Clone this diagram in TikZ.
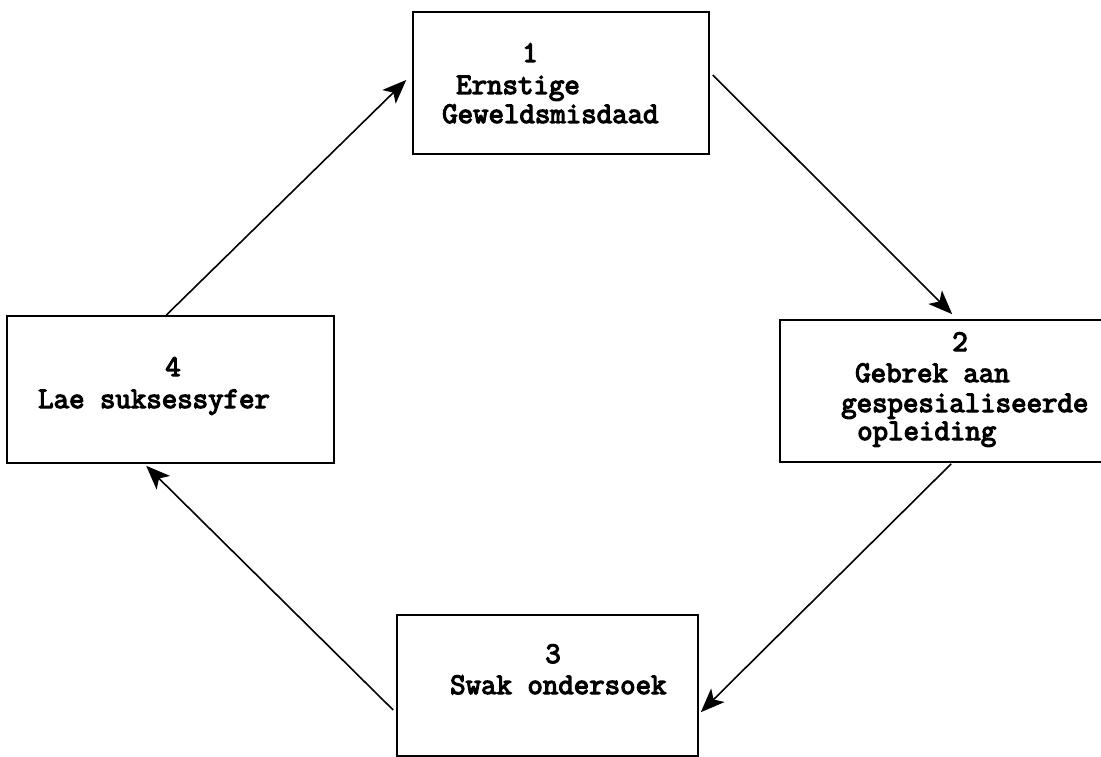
\documentclass[tikz,border=0pt]{standalone}
\usepackage{fontspec}
\newfontfamily\crfont[FakeBold=4]{Latin Modern Mono}
\usetikzlibrary{arrows.meta,calc}
\begin{document}
\begin{tikzpicture}[x=1pt,y=-1pt,
  box/.style={draw=black,line width=1.6pt,inner sep=0pt,rectangle},
  txt/.style={inner sep=0pt,font=\fontsize{30}{34}\selectfont\crfont},
  arr/.style={draw=black,line width=1.6pt,-{Stealth[length=24pt,width=19pt,inset=6pt]}}]
\clip (0,0) rectangle (1101,757);
\fill[white] (0,0) rectangle (1101,757);
% boxes
\node[box,minimum width=296pt,minimum height=142pt] (n1) at (561,83) {};
\node[box,minimum width=335pt,minimum height=142pt] (n2) at (947.5,391) {};
\node[box,minimum width=301pt,minimum height=141pt] (n3) at (547.5,685.5) {};
\node[box,minimum width=327pt,minimum height=147pt] (n4) at (170.5,389.5) {};
% texts box 1
\node[txt,anchor=base] (t1a) at (530,62) {1};
\node[txt,anchor=base west] (t1b) at (456,94) {Ernstige};
\node[txt,anchor=base west] (t1c) at (442,123) {Geweldsmisdaad};
% texts box 2
\node[txt,anchor=base] (t2a) at (960,351) {2};
\node[txt,anchor=base west] (t2b) at (855,382) {Gebrek aan};
\node[txt,anchor=base west] (t2c) at (841,412) {gespesialiseerde};
\node[txt,anchor=base west] (t2d) at (857,440) {opleiding};
% texts box 3
\node[txt,anchor=base] (t3a) at (553,663) {3};
\node[txt,anchor=base west] (t3b) at (450,694) {Swak ondersoek};
% texts box 4
\node[txt,anchor=base] (t4a) at (173,376) {4};
\node[txt,anchor=base west] (t4b) at (38,408) {Lae suksessyfer};
% arrows
\draw[arr] ($(n4.north west)+(160,0)$) -- ($(n1.west)+(-6,-3)$);
\draw[arr] ($(n1.east)+(3,-8)$) -- ($(n2.north west)+(173,-5)$);
\draw[arr] ($(n2.south west)+(172,1)$) -- ($(n3.north east)+(2,98)$);
\draw[arr] ($(n3.west)+(-3,24.5)$) -- ($(n4.south west)+(140,2)$);
\end{tikzpicture}
\end{document}
